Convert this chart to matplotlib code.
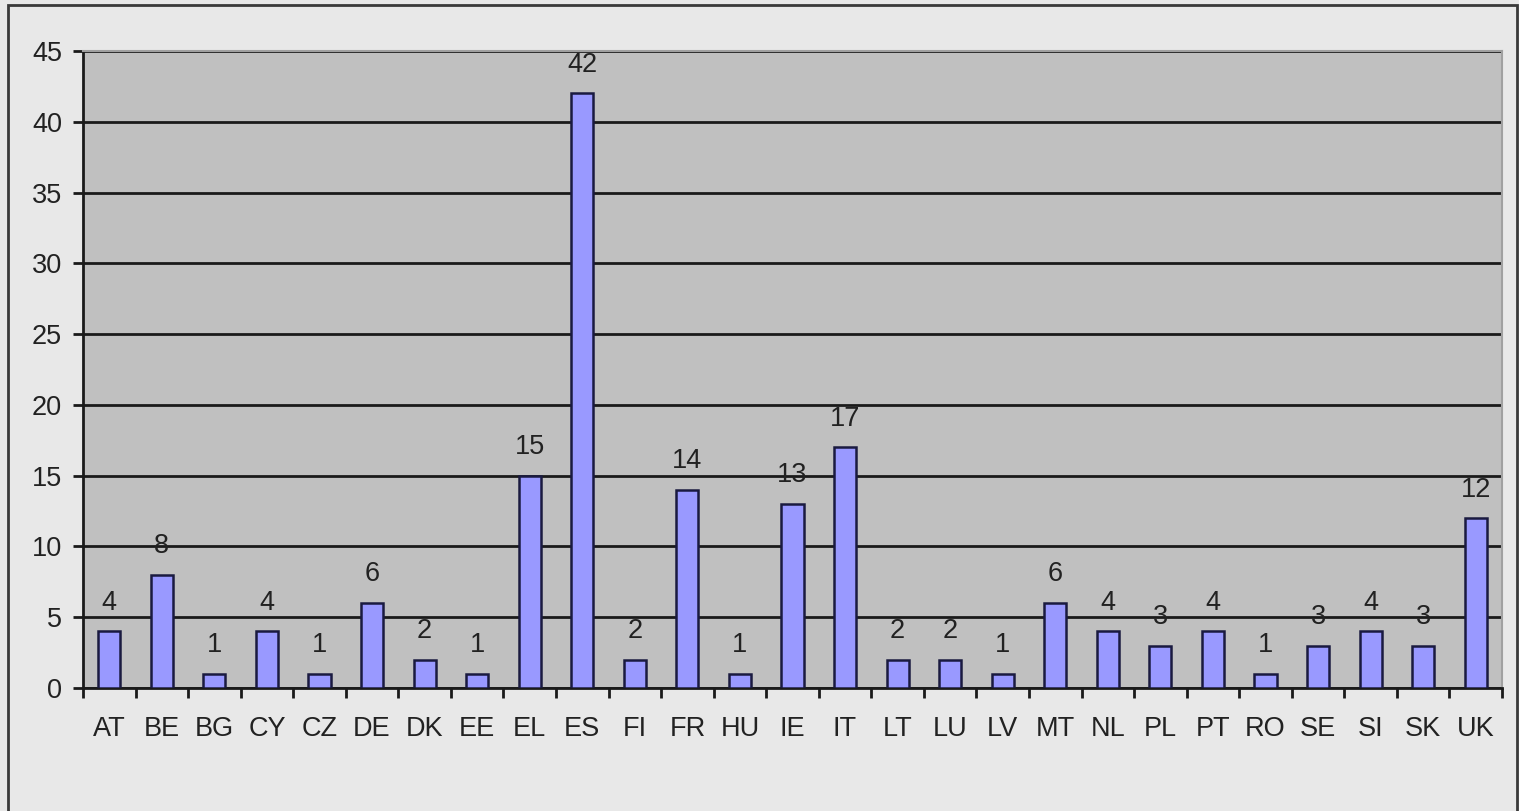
import matplotlib.pyplot as plt
from matplotlib.patches import Rectangle

# country codes and counts
countries = ['AT', 'BE', 'BG', 'CY', 'CZ', 'DE', 'DK', 'EE', 'EL', 'ES', 'FI', 'FR', 'HU', 'IE',
             'IT', 'LT', 'LU', 'LV', 'MT', 'NL', 'PL', 'PT', 'RO', 'SE', 'SI', 'SK', 'UK']
counts = [4, 8, 1, 4, 1, 6, 2, 1, 15, 42, 2, 14, 1, 13, 17, 2, 2, 1, 6, 4, 3, 4, 1, 3, 4, 3, 12]
y_ticks = [0, 5, 10, 15, 20, 25, 30, 35, 40, 45]

plt.rcParams['font.family'] = ['Liberation Sans', 'DejaVu Sans']

fig = plt.figure(figsize=(15.19, 8.11), dpi=100, facecolor='#e8e8e8')

# outer frame (open at the bottom)
fig.patches.append(Rectangle((8 / 1519, -0.05), (1517 - 8) / 1519, 1.05 - 5 / 811,
                             transform=fig.transFigure, fill=False,
                             edgecolor='#3a3a3a', linewidth=2))

ax = fig.add_axes([83 / 1519, 1 - 688 / 811, (1502 - 83) / 1519, (688 - 51) / 811])
ax.set_facecolor('#c0c0c0')

x = list(range(len(countries)))
bars = ax.bar(x, counts, width=0.42, color='#9999ff', edgecolor='#1a1a40', linewidth=1.8, zorder=3)

for xi, v in zip(x, counts):
    ax.text(xi, v + 1.1, str(v), ha='center', va='bottom', fontsize=19.5, color='#222222', zorder=4)

ax.set_xlim(-0.5, len(countries) - 0.5)
ax.set_ylim(0, 45)
ax.set_yticks(y_ticks)
ax.set_yticklabels([str(t) for t in y_ticks], fontsize=19.5, color='#222222')
ax.yaxis.grid(True, color='#1a1a1a', linewidth=2, zorder=1)
ax.set_axisbelow(True)

# x ticks on category boundaries, labels at centres
ax.set_xticks([i - 0.5 for i in range(len(countries) + 1)])
ax.set_xticklabels([])
ax.set_xticks(x, minor=True)
ax.set_xticklabels(countries, minor=True, fontsize=19.5, color='#222222')
ax.tick_params(axis='x', which='minor', length=0, pad=20)
ax.tick_params(axis='x', which='major', length=7, width=2, direction='out', color='#1a1a1a')
ax.tick_params(axis='y', length=7, width=2, direction='out', color='#1a1a1a', pad=8)

for side in ['top', 'right']:
    ax.spines[side].set_color('#a0a0a0')
    ax.spines[side].set_linewidth(1.5)
for side in ['left', 'bottom']:
    ax.spines[side].set_color('#1a1a1a')
    ax.spines[side].set_linewidth(2)

fig.savefig('out.png', dpi=100, facecolor=fig.get_facecolor())
